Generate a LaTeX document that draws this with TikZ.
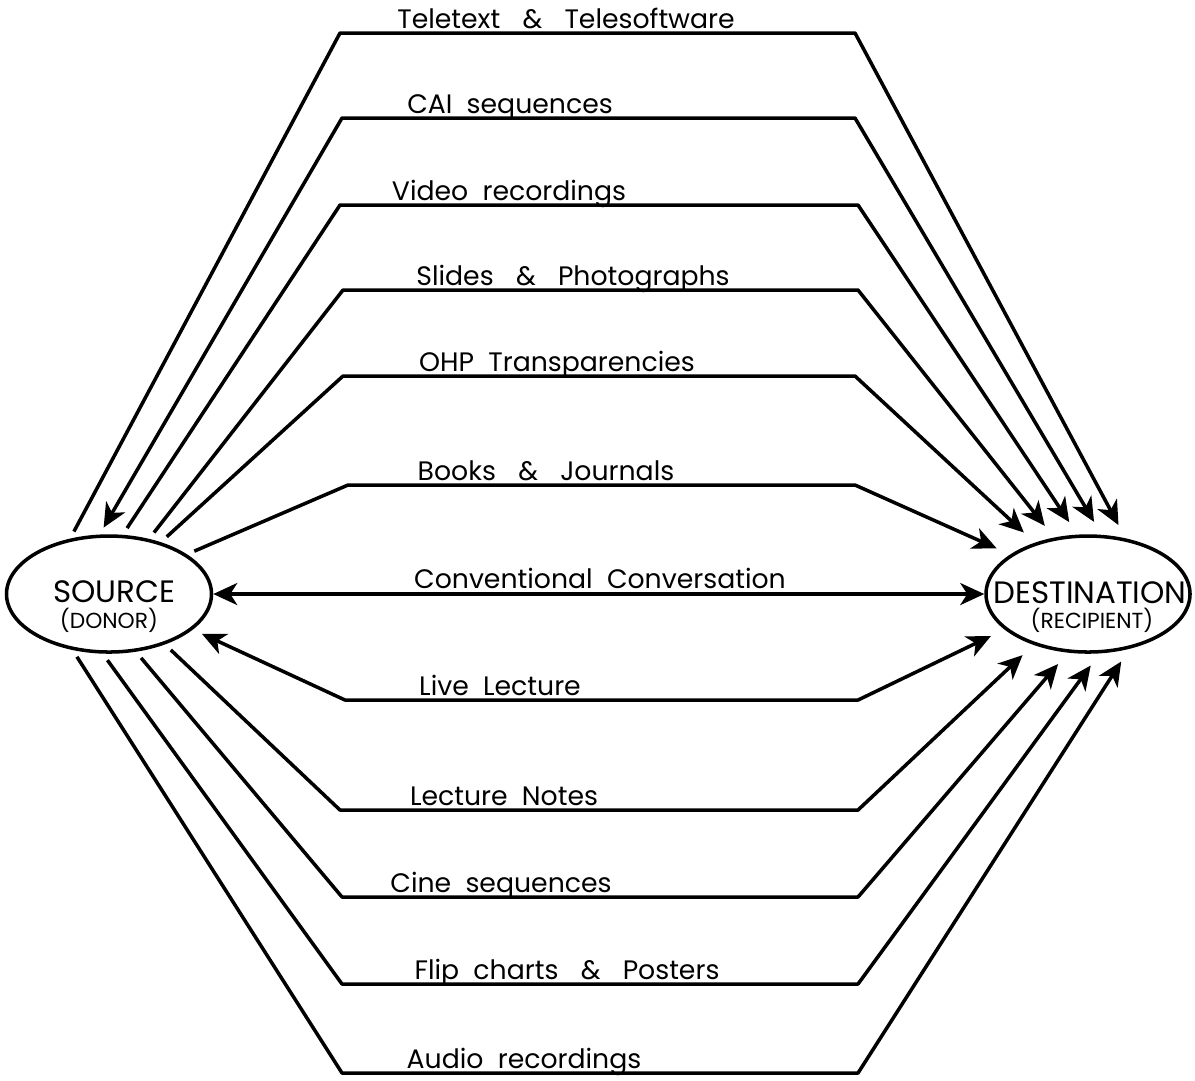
\documentclass[tikz,border=0pt]{standalone}
\usepackage{fontspec}
\setmainfont[WordSpace=2]{Poppins}
\usepackage{tikz}
\usetikzlibrary{arrows.meta,shapes.geometric}
\newcommand\wideamp{\ \hspace{0.3em}\&\hspace{0.3em}\ }

\begin{document}
\begin{tikzpicture}[x=0.1mm,y=-0.1mm,
    chan/.style={line width=1pt,line join=round,shorten <=0.8mm,shorten >=1.5mm},
    onehead/.style={-{Stealth[length=2.4mm,width=2.2mm,inset=0.7mm]}},
    twoheads/.style={{Stealth[length=2.4mm,width=2.2mm,inset=0.7mm]}-{Stealth[length=2.4mm,width=2.2mm,inset=0.7mm]}},
    lbl/.style={anchor=base,inner sep=0pt,font=\fontsize{7.6}{9}\selectfont},
    blob/.style={draw,ellipse,line width=1pt,inner sep=0pt,minimum width=20.5mm,minimum height=11.6mm}]
  \useasboundingbox (0,0) rectangle (1195,1080);
  % the two ends
  \node[blob] (src) at (109,594) {};
  \node[blob,minimum width=20.4mm] (dst) at (1088,594) {};
  \node[inner sep=0pt,font=\fontsize{8.8}{9}\selectfont] (srcname) at (114,592) {SOURCE};
  \node[inner sep=0pt,font=\fontsize{6.2}{7}\selectfont] (srcnote) at (109,620) {(DONOR)};
  \node[inner sep=0pt,font=\fontsize{8.8}{9}\selectfont] (dstname) at (1090,593) {DESTINATION};
  \node[inner sep=0pt,font=\fontsize{6.2}{7}\selectfont] (dstnote) at (1092,620) {(RECIPIENT)};
  % corners of the channels
  \path
    coordinate (l1) at (340,33)    coordinate (r1) at (855,33)
    coordinate (l2) at (342,118)   coordinate (r2) at (855,118)
    coordinate (l3) at (340,205)   coordinate (r3) at (858,205)
    coordinate (l4) at (343,290)   coordinate (r4) at (858,290)
    coordinate (l5) at (343,376)   coordinate (r5) at (855,376)
    coordinate (l6) at (348,485)   coordinate (r6) at (855,485)
    coordinate (l8) at (345,700)   coordinate (r8) at (858,700)
    coordinate (l9) at (340,810)   coordinate (r9) at (858,810)
    coordinate (l10) at (342,897)  coordinate (r10) at (858,897)
    coordinate (l11) at (342,984)  coordinate (r11) at (858,984)
    coordinate (l12) at (342,1073) coordinate (r12) at (858,1073);
  \draw[chan,onehead] (src.125) -- (l1) -- (r1) -- (dst.56);
  \draw[chan,twoheads] (src.99) -- (l2) -- (r2) -- (dst.77);
  \draw[chan,onehead] (src.77) -- (l3) -- (r3) -- (dst.100);
  \draw[chan,onehead] (src.54) -- (l4) -- (r4) -- (dst.121);
  \draw[chan,onehead] (src.45) -- (l5) -- (r5) -- (dst.136);
  \draw[chan,onehead] (src.27) -- (l6) -- (r6) -- (dst.153);
  \draw[chan,twoheads,shorten <=0pt,shorten >=0pt] (src.east) -- (dst.west);
  \draw[chan,twoheads,shorten <=1mm] (src.337) -- (l8) -- (r8) -- (dst.203);
  \draw[chan,onehead] (src.318) -- (l9) -- (r9) -- (dst.223);
  \draw[chan,onehead] (src.295) -- (l10) -- (r10) -- (dst.251);
  \draw[chan,onehead] (src.264) -- (l11) -- (r11) -- (dst.281);
  \draw[chan,onehead] (src.237) -- (l12) -- (r12) -- (dst.307);
  % labels
  \node[lbl] (n1) at (566,28) {Teletext\wideamp Telesoftware};
  \node[lbl] (n2) at (510,113) {CAI sequences};
  \node[lbl] (n3) at (509,200) {Video recordings};
  \node[lbl] (n4) at (573,285) {Slides\wideamp Photographs};
  \node[lbl] (n5) at (557,371) {OHP Transparencies};
  \node[lbl] (n6) at (546,480) {Books\wideamp Journals};
  \node[lbl] (n7) at (600,588) {Conventional Conversation};
  \node[lbl] (n8) at (500,695) {Live Lecture};
  \node[lbl] (n9) at (504,805) {Lecture Notes};
  \node[lbl] (n10) at (501,892) {Cine sequences};
  \node[lbl] (n11) at (567,979) {Flip charts\wideamp Posters};
  \node[lbl] (n12) at (524,1068) {Audio recordings};
\end{tikzpicture}
\end{document}
